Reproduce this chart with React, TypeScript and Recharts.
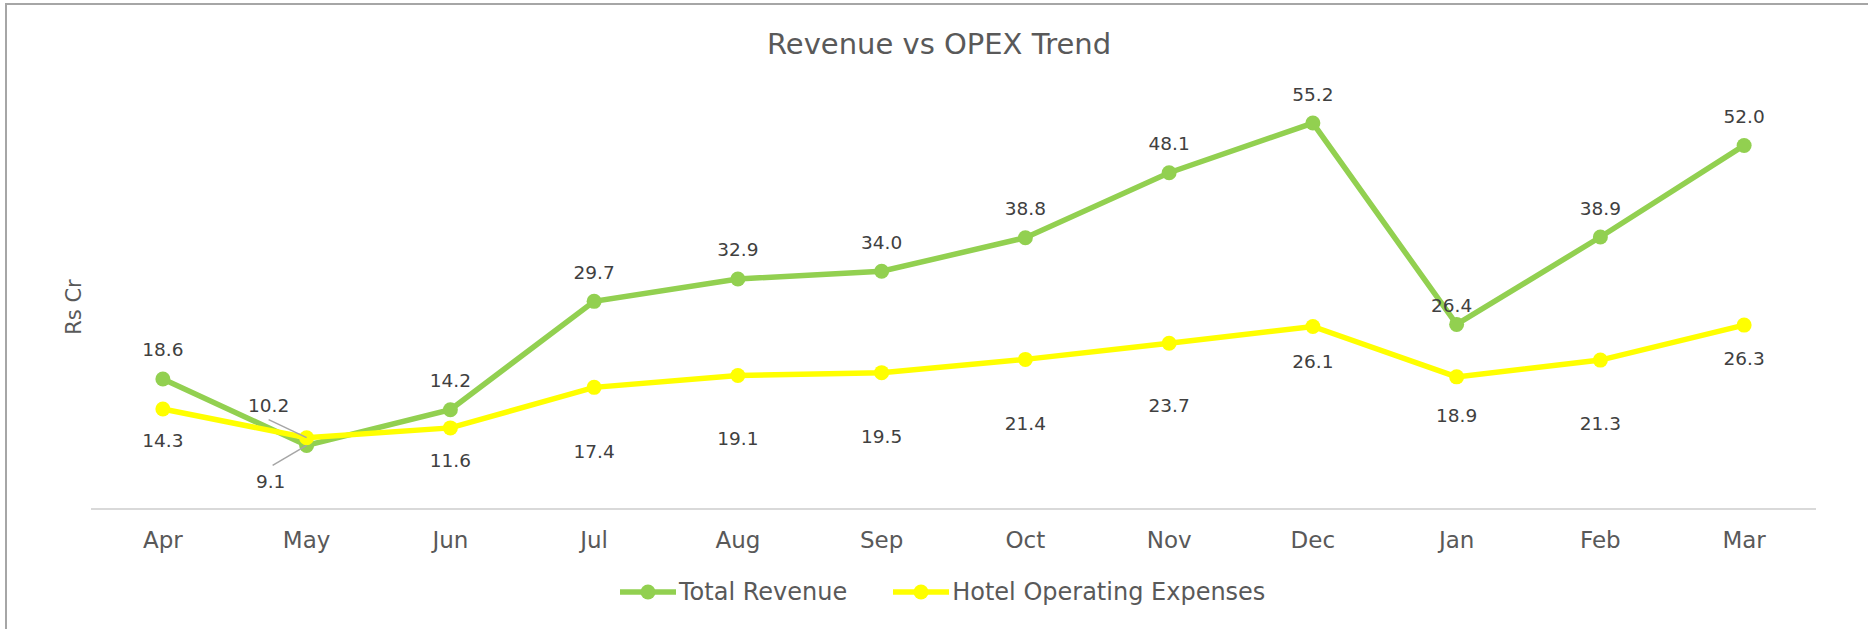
import { LineChart, Line, XAxis, YAxis, LabelList } from "recharts";

const months = ["Apr", "May", "Jun", "Jul", "Aug", "Sep", "Oct", "Nov", "Dec", "Jan", "Feb", "Mar"];
const totalRevenue = [18.6, 9.1, 14.2, 29.7, 32.9, 34.0, 38.8, 48.1, 55.2, 26.4, 38.9, 52.0];
const hotelOpex = [14.3, 10.2, 11.6, 17.4, 19.1, 19.5, 21.4, 23.7, 26.1, 18.9, 21.3, 26.3];

const GREEN = "#92D050";
const YELLOW = "#FFFF00";

// label placement per point: [dx, dy, leaderStartDx?, leaderStartDy?]
const revenueLabelPos: number[][] = [
  [0, -29], [-36, 36, -34, 20], [0, -29], [0, -29], [0, -29], [0, -29],
  [0, -29], [0, -29], [0, -29], [-5, -19], [0, -29], [0, -29],
];
const opexLabelPos: number[][] = [
  [0, 31], [-38, -32, -38, -18], [0, 33], [0, 64], [0, 63], [0, 64],
  [0, 64], [0, 62], [0, 35], [0, 39], [0, 63], [0, 33],
];

const data = months.map((m, i) => ({
  month: m,
  revenue: totalRevenue[i],
  opex: hotelOpex[i],
}));

function makeLabel(pos: number[][]) {
  return (props: any) => {
    const { x, y, value, index } = props;
    const p = pos[index] || [0, -29];
    return (
      <g>
        {p.length > 2 && (
          <line x1={x + p[2]} y1={y + p[3]} x2={x} y2={y} stroke="#a6a6a6" strokeWidth={1.5} />
        )}
        <text
          x={x + p[0]}
          y={y + p[1]}
          textAnchor="middle"
          dominantBaseline="central"
          fontSize={18.5}
          fill="#404040"
          fontFamily="DejaVu Sans, Verdana, sans-serif"
        >
          {Number(value).toFixed(1)}
        </text>
      </g>
    );
  };
}

function LegendItem({ color, label }: { color: string; label: string }) {
  return (
    <div style={{ display: "flex", alignItems: "center" }}>
      <svg width={56} height={16} style={{ marginRight: 3 }}>
        <line x1={0} y1={8} x2={56} y2={8} stroke={color} strokeWidth={5.5} />
        <circle cx={28} cy={8} r={7.5} fill={color} />
      </svg>
      <span>{label}</span>
    </div>
  );
}

export default function App() {
  const font = "DejaVu Sans, Verdana, sans-serif";
  return (
    <div
      style={{
        position: "absolute",
        top: 0,
        left: 0,
        width: 1868,
        height: 629,
        overflow: "hidden",
        background: "#fff",
        fontFamily: font,
      }}
    >
      <div
        style={{
          position: "absolute",
          top: 3,
          left: 5,
          width: 1900,
          height: 700,
          borderTop: "2px solid #a6a6a6",
          borderLeft: "2px solid #a6a6a6",
        }}
      />
      <div
        style={{
          position: "absolute",
          top: 24,
          left: 0,
          width: 1878,
          textAlign: "center",
          fontSize: 29,
          color: "#595959",
          lineHeight: "40px",
        }}
      >
        Revenue vs OPEX Trend
      </div>
      <div
        style={{
          position: "absolute",
          left: 74,
          top: 307,
          transform: "translate(-50%, -50%) rotate(-90deg)",
          fontSize: 21,
          color: "#595959",
          whiteSpace: "nowrap",
        }}
      >
        Rs Cr
      </div>
      <div style={{ position: "absolute", top: 0, left: 0 }}>
        <LineChart
          width={1868}
          height={629}
          data={data}
          margin={{ top: 89.5, right: 52, left: 91, bottom: 80 }}
        >
          <XAxis
            dataKey="month"
            scale="band"
            height={40}
            axisLine={{ stroke: "#d9d9d9", strokeWidth: 2 }}
            tickLine={false}
            tickMargin={17}
            tick={{ fill: "#595959", fontSize: 23, fontFamily: font }}
            interval={0}
          />
          <YAxis hide domain={[0, 60]} />
          <Line
            dataKey="revenue"
            name="Total Revenue"
            stroke={GREEN}
            strokeWidth={5.5}
            dot={{ r: 7.5, fill: GREEN, stroke: GREEN, strokeWidth: 0 }}
            activeDot={false}
            isAnimationActive={false}
          >
            <LabelList dataKey="revenue" content={makeLabel(revenueLabelPos)} />
          </Line>
          <Line
            dataKey="opex"
            name="Hotel Operating Expenses"
            stroke={YELLOW}
            strokeWidth={5.5}
            dot={{ r: 7.5, fill: YELLOW, stroke: YELLOW, strokeWidth: 0 }}
            activeDot={false}
            isAnimationActive={false}
          >
            <LabelList dataKey="opex" content={makeLabel(opexLabelPos)} />
          </Line>
        </LineChart>
      </div>
      <div
        style={{
          position: "absolute",
          left: 620,
          top: 592,
          transform: "translateY(-50%)",
          display: "flex",
          alignItems: "center",
          gap: 46,
          fontSize: 24,
          color: "#595959",
          whiteSpace: "nowrap",
        }}
      >
        <LegendItem color={GREEN} label="Total Revenue" />
        <LegendItem color={YELLOW} label="Hotel Operating Expenses" />
      </div>
    </div>
  );
}
